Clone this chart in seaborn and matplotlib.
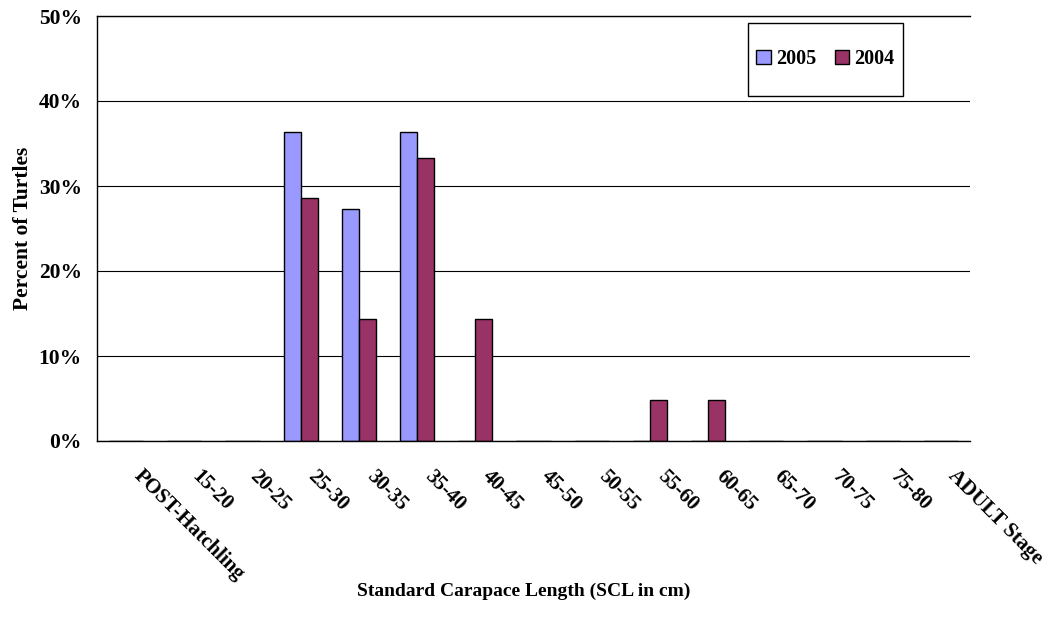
import numpy as np
import pandas as pd
import matplotlib
matplotlib.use("Agg")
import matplotlib.pyplot as plt
import matplotlib.patches as mpatches
import seaborn as sns

# datos (porcentaje de tortugas por clase de talla)
categories = ["POST-Hatchling", "15-20", "20-25", "25-30", "30-35", "35-40", "40-45",
              "45-50", "50-55", "55-60", "60-65", "65-70", "70-75", "75-80", "ADULT Stage"]
pct_2005 = [0, 0, 0, 36.4, 27.3, 36.4, 0, 0, 0, 0, 0, 0, 0, 0, 0]
pct_2004 = [0, 0, 0, 28.6, 14.3, 33.3, 14.3, 0, 0, 4.8, 4.8, 0, 0, 0, 0]
years = ["2005", "2004"]
colors = {"2005": "#9999FF", "2004": "#993366"}
y_ticks = [0, 10, 20, 30, 40, 50]

df = pd.concat([
    pd.DataFrame({"size": categories, "pct": pct_2005, "year": "2005"}),
    pd.DataFrame({"size": categories, "pct": pct_2004, "year": "2004"}),
])

sns.set_style("white")
plt.rcParams["font.family"] = ["Liberation Serif", "DejaVu Serif"]
plt.rcParams["font.weight"] = "bold"
plt.rcParams["axes.labelweight"] = "bold"
for key in ["text.color", "axes.labelcolor", "xtick.color", "ytick.color"]:
    plt.rcParams[key] = "black"

fig = plt.figure(figsize=(10.49, 6.18), dpi=100)
ax = fig.add_axes([97 / 1049, 1 - 441 / 618, 873 / 1049, 425 / 618])

sns.barplot(data=df, x="size", y="pct", hue="year", order=categories, hue_order=years,
            palette=colors, saturation=1, edgecolor="black", linewidth=1, width=0.585,
            errorbar=None, legend=False, ax=ax)

ax.set_xlim(-0.5, len(categories) - 0.5)
ax.set_ylim(0, 50)
ax.set_yticks(y_ticks)
ax.set_yticklabels([f"{t}%" for t in y_ticks], fontsize=15.5, fontweight="bold")
ax.yaxis.grid(True, color="black", linewidth=0.8)
ax.set_axisbelow(True)

# ticks en los limites de cada categoria, etiquetas en el centro
ax.set_xticks(np.arange(-0.5, len(categories), 1))
ax.set_xticklabels([])
ax.set_xticks(np.arange(len(categories)) + 0.3, minor=True)
ax.set_xticklabels(categories, minor=True, rotation=-45, ha="left", va="top",
                   rotation_mode="anchor", fontsize=15, fontweight="bold")
ax.tick_params(axis="x", which="major", length=3.6, width=1, direction="out", color="black")
ax.tick_params(axis="x", which="minor", length=0, pad=18)
ax.tick_params(axis="y", length=3, width=1, direction="out", color="black", pad=8)

for side in ["left", "bottom", "top"]:
    ax.spines[side].set_color("black")
    ax.spines[side].set_linewidth(1)
ax.spines["right"].set_visible(False)

ax.set_xlabel("Standard Carapace Length (SCL in cm)", fontsize=14, fontweight="bold")
ax.set_ylabel("Percent of Turtles", fontsize=15.5, fontweight="bold")
ax.xaxis.set_label_coords(0.489, -0.334)
ax.yaxis.set_label_coords(-0.073, 0.5)

# leyenda con marco dibujado a mano
lx, ly, lw, lh = 0.7457, 0.8118, 0.1775, 0.1718
ax.add_patch(mpatches.Rectangle((lx, ly), lw, lh, transform=ax.transAxes, fill=True,
                                facecolor="white", edgecolor="black", linewidth=1, zorder=5))
handles = [mpatches.Patch(facecolor=colors[y], edgecolor="black", linewidth=1, label=y) for y in years]
leg = ax.legend(handles=handles, loc="center", bbox_to_anchor=(lx + lw / 2, ly + lh / 2),
                ncol=2, frameon=False, handlelength=0.7, handleheight=0.7,
                handletextpad=0.28, columnspacing=0.9, borderpad=0,
                prop={"weight": "bold", "size": 14.5})
leg.set_zorder(6)

fig.savefig("out.png", dpi=100)
